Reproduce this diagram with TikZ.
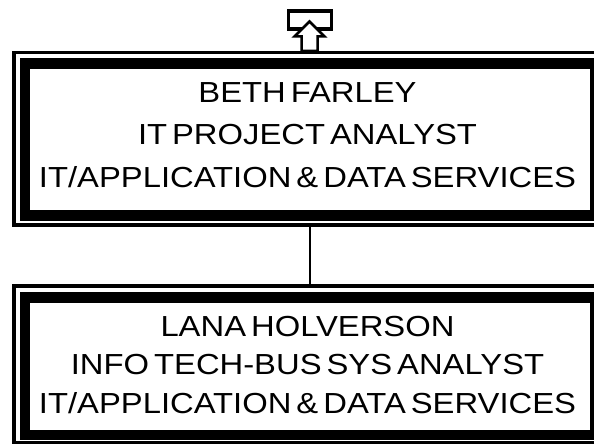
\documentclass[tikz,border=0pt]{standalone}
\usepackage{fontspec}
\setmainfont{Liberation Sans}[FakeStretch=1.13,WordSpace=0.55]
\usepackage{tikz}
\usetikzlibrary{calc}

\begin{document}
\begin{tikzpicture}[x=1pt,y=-1pt,
    frame/.style={draw,line width=3.5pt,outer sep=0pt,inner sep=0pt},
    band/.style={draw,line width=10.5pt},
    person/.style={align=center,inner sep=0pt,font=\fontsize{29}{42.3}\selectfont}]
  \useasboundingbox (0,0) rectangle (594,444);
  % link to the box above
  \node[draw,line width=3.3pt,minimum width=43.4pt,minimum height=18pt,outer sep=0pt] (upbox) at (310,20) {};
  \draw[line width=2.5pt,fill=white,line join=miter]
    (309.5,21.5) -- (324.5,36.5) -- (317.5,36.5) -- (317.5,51) --
    (301.5,51) -- (301.5,36.5) -- (294.5,36.5) -- cycle;
  % boxes
  \node[frame,minimum width=592pt,minimum height=172.5pt] (beth) at (310,138.75) {};
  \draw[band] ([shift={(11,11)}]beth.north west) rectangle ([shift={(-11,-9.5)}]beth.south east);
  \node[person] (bethtext) at ([shift={(-2.5,-3.75)}]beth.center)
    {BETH FARLEY\\IT PROJECT ANALYST\\IT/APPLICATION \& DATA SERVICES};
  \node[frame,minimum width=592pt,minimum height=156.5pt] (lana) at (310,364.25) {};
  \draw[band] ([shift={(11,11.5)}]lana.north west) rectangle ([shift={(-11,-7.5)}]lana.south east);
  \node[person,font=\fontsize{29}{38.3}\selectfont] (lanatext) at ([shift={(-2.5,0.75)}]lana.center)
    {LANA HOLVERSON\\INFO TECH-BUS SYS ANALYST\\IT/APPLICATION \& DATA SERVICES};
  \draw[line width=2.5pt] (beth.south) -- (lana.north);
\end{tikzpicture}
\end{document}
